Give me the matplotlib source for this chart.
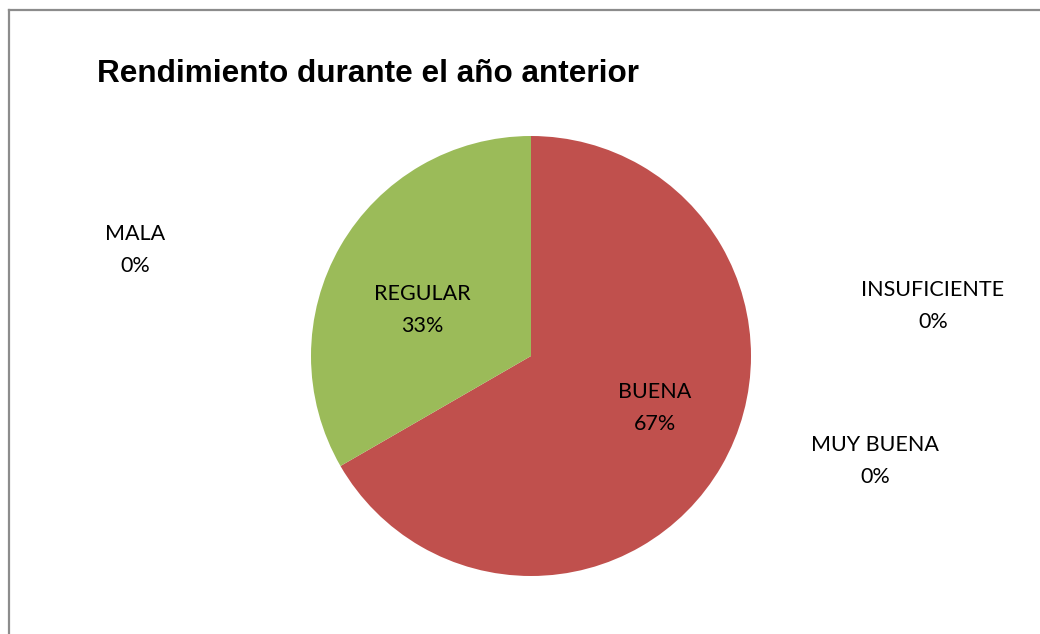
import matplotlib.pyplot as plt
from matplotlib.lines import Line2D

# data
categorias = ['MUY BUENA', 'BUENA', 'REGULAR', 'INSUFICIENTE', 'MALA']
valores = [0, 2, 1, 0, 0]
colores = ['#4F81BD', '#C0504D', '#9BBB59', '#8064A2', '#4BACC6']
titulo = 'Rendimiento durante el año anterior'

# where the data labels sit (figure px, from top-left)
pos_etiquetas = {
    'MUY BUENA': (875, 461),
    'BUENA': (655, 408),
    'REGULAR': (422, 310),
    'INSUFICIENTE': (933, 306),
    'MALA': (135, 250),
}

W, H = 1040, 634
fig = plt.figure(figsize=(W / 100, H / 100), dpi=100)
fig.patch.set_facecolor('white')

# pie axes: centre (531, 356), radius 220 px
cx, cy, r = 531, 356, 220
ax = fig.add_axes([(cx - r) / W, (H - cy - r) / H, 2 * r / W, 2 * r / H])
ax.pie(valores, colors=colores, startangle=90, counterclock=False,
       radius=1, center=(0, 0), wedgeprops=dict(linewidth=0))
ax.set_xlim(-1, 1)
ax.set_ylim(-1, 1)
ax.axis('off')

total = sum(valores)
for cat, v in zip(categorias, valores):
    px, py = pos_etiquetas[cat]
    pct = round(100 * v / total)
    fig.text(px / W, 1 - py / H, f'{cat}\n{pct}%', ha='center', va='center',
             fontsize=15.5, family='Lato', color='black', linespacing=1.7)

fig.text(97 / W, 1 - 74 / H, titulo, ha='left', va='center',
         fontsize=22.7, fontweight='bold', family='Liberation Sans')

# chart area border (only top and left visible)
gris = '#8c8c8c'
fig.add_artist(Line2D([9 / W, 1], [1 - 10 / H, 1 - 10 / H], color=gris, lw=1.6,
                      transform=fig.transFigure))
fig.add_artist(Line2D([9 / W, 9 / W], [0, 1 - 10 / H], color=gris, lw=1.6,
                      transform=fig.transFigure))

fig.savefig('out.png', dpi=100)
